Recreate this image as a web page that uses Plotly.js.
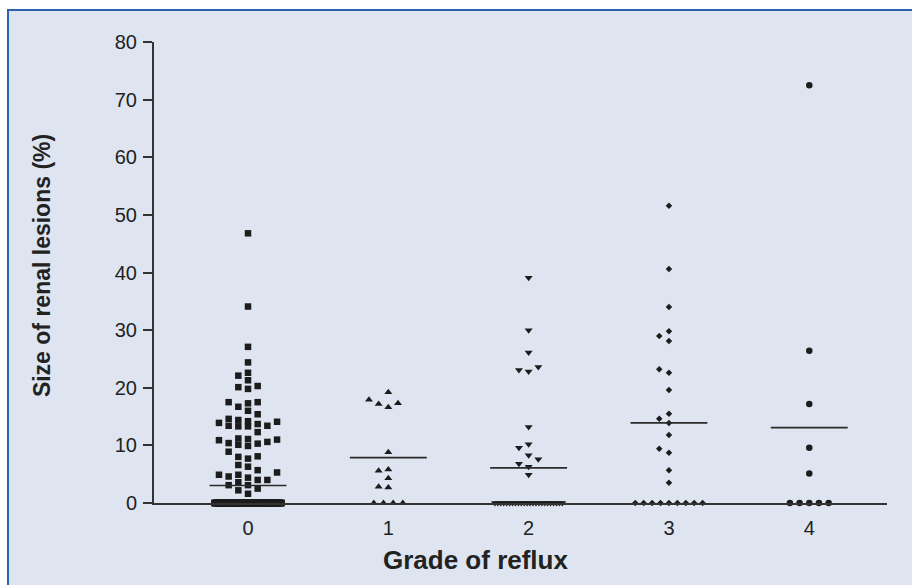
<!DOCTYPE html>
<html>
<head>
<meta charset="utf-8">
<script src="https://cdn.plot.ly/plotly-3.0.1.min.js"></script>
<style>
  html, body { margin: 0; padding: 0; background: #ffffff; overflow: hidden; }
  #bg { position: absolute; left: 7px; top: 9px; width: 920px; height: 600px;
        background: #dee5f1; border-left: 2px solid #2b63ae; border-top: 2px solid #2b63ae; }
  #chart { position: absolute; left: 0; top: 0; width: 912px; height: 585px; }
</style>
</head>
<body>
<div id="bg"></div>
<div id="chart"></div>
<script>
// ---- data ----
const categories = ['0', '1', '2', '3', '4'];
const grade0 = [46.8, 34.1, 27.1, 24.4, 22.6, 22.1, 21.3, 20.3, 20.1, 19.8, 17.5, 17.5, 17.3, 16.7, 16.0,
                15.4, 14.6, 14.4, 14.2, 14.1, 13.9, 13.7, 13.4, 13.4, 13.3, 13.3, 12.3, 11.2, 11.1, 11.0,
                10.9, 10.6, 10.4, 10.3, 10.1, 9.9, 8.9, 8.1, 8.0, 7.7, 6.6, 6.3, 5.7, 5.3, 4.9, 4.9, 4.6,
                4.4, 4.0, 4.0, 3.6, 3.1, 3.1, 2.5, 2.2, 1.6];
const grade1 = [19.2, 17.9, 17.3, 17.2, 16.6, 8.8, 5.8, 5.6, 4.3, 2.8, 2.7];
const grade2 = [39.1, 30.0, 26.1, 23.6, 23.1, 22.8, 13.2, 10.2, 9.6, 8.3, 7.6, 6.8, 6.3, 4.9];
const grade3 = [51.6, 40.6, 34.0, 29.8, 29.0, 28.1, 23.2, 22.6, 19.6, 15.5, 14.6, 13.9, 11.8, 9.4, 8.7, 5.7, 3.5];
const grade4 = [72.5, 26.4, 17.2, 9.6, 5.1];
// number of kidneys with a lesion size of 0 % in each grade
const zeroCounts = [176, 4, 24, 9, 5];
const yTicks = [0, 10, 20, 30, 40, 50, 60, 70, 80];

// ---- styles ----
const symbols = ['square', 'triangle-up', 'triangle-down', 'diamond', 'circle'];
const sizes = [6.5, 7, 7, 5, 6.5];
const markerColor = '#1c1c1c';
const axisColor = '#333333';
const fontFamily = '"Liberation Sans", Arial, Helvetica, sans-serif';

const groups = [grade0, grade1, grade2, grade3, grade4];

// column-scatter layout (beeswarm) offsets computed from the values
const SLOT = 0.069;      // x units between neighbouring columns
const YTHR = 1.3;        // y units needed to share a column
const MAXSLOT = 3;
const ROWHALF = 0.24;    // max half width of a row of tied values

function swarm(vals) {
  const counts = {};
  vals.forEach(v => { counts[v] = (counts[v] || 0) + 1; });
  const placed = [];
  const out = [];
  Object.keys(counts).forEach(k => {
    const n = counts[k];
    if (n >= 3) {
      const v = parseFloat(k);
      const sp = Math.min(SLOT, (2 * ROWHALF) / (n - 1));
      for (let i = 0; i < n; i++) {
        const p = { x: (i - (n - 1) / 2) * sp, y: v };
        placed.push(p); out.push(p);
      }
    }
  });
  const rest = vals.filter(v => counts[v] < 3).slice().sort((a, b) => a - b);
  const order = [0];
  for (let k = 1; k <= MAXSLOT; k++) { order.push(-k); order.push(k); }
  rest.forEach(v => {
    let best = null, bestD = -1;
    for (const k of order) {
      const x = k * SLOT;
      let minD = Infinity;
      for (const p of placed) {
        if (Math.abs(p.x - x) < SLOT * 0.9) minD = Math.min(minD, Math.abs(p.y - v));
      }
      if (minD >= YTHR) { best = x; bestD = minD; break; }
      if (minD > bestD + 1e-9) { bestD = minD; best = x; }
    }
    const p = { x: best, y: v };
    placed.push(p); out.push(p);
  });
  return out;
}

const traces = [];
const meanTraces = [];
groups.forEach((g, i) => {
  const all = g.concat(new Array(zeroCounts[i]).fill(0));
  const pts = swarm(all);
  traces.push({
    type: 'scatter', mode: 'markers',
    x: pts.map(p => i + p.x), y: pts.map(p => p.y),
    marker: { symbol: symbols[i], size: sizes[i], color: markerColor, line: { width: 0 } },
    cliponaxis: false, showlegend: false, hoverinfo: 'y'
  });
  const mean = all.reduce((a, b) => a + b, 0) / all.length;
  meanTraces.push({
    type: 'scatter', mode: 'lines',
    x: [i - 0.274, i + 0.274], y: [mean, mean],
    line: { color: '#2a2a2a', width: 1.6 },
    cliponaxis: false, showlegend: false, hoverinfo: 'skip'
  });
});

const layout = {
  width: 912, height: 585,
  margin: { l: 154, r: 25, t: 42, b: 82 },
  paper_bgcolor: 'rgba(0,0,0,0)',
  plot_bgcolor: 'rgba(0,0,0,0)',
  font: { family: fontFamily, color: '#222222', size: 20 },
  showlegend: false,
  xaxis: {
    range: [-0.67, 4.554],
    tickvals: [0, 1, 2, 3, 4], ticktext: categories,
    ticks: '', showgrid: false, zeroline: false,
    showline: true, linecolor: axisColor, linewidth: 2,
    tickfont: { size: 20, color: '#222222' },
    ticklabelstandoff: 6,
    fixedrange: true
  },
  yaxis: {
    range: [0, 80], tickvals: yTicks,
    ticks: 'outside', ticklen: 9, tickwidth: 2, tickcolor: axisColor,
    showgrid: false, zeroline: false,
    showline: true, linecolor: axisColor, linewidth: 2,
    tickfont: { size: 20, color: '#222222' },
    ticklabelstandoff: 2,
    fixedrange: true
  },
  annotations: [
    { text: '<b>Grade of reflux</b>', xref: 'paper', yref: 'paper', x: 0.438, y: -0.123,
      xanchor: 'center', yanchor: 'middle', showarrow: false,
      font: { size: 26, color: '#222222', family: fontFamily } },
    { text: '<b>Size of renal lesions (%)</b>', xref: 'paper', yref: 'paper', x: -0.1528, y: 0.516,
      xanchor: 'center', yanchor: 'middle', textangle: -90, showarrow: false,
      font: { size: 23, color: '#222222', family: fontFamily } }
  ]
};

Plotly.newPlot('chart', traces.concat(meanTraces), layout, { displayModeBar: false, staticPlot: true });
</script>
</body>
</html>
